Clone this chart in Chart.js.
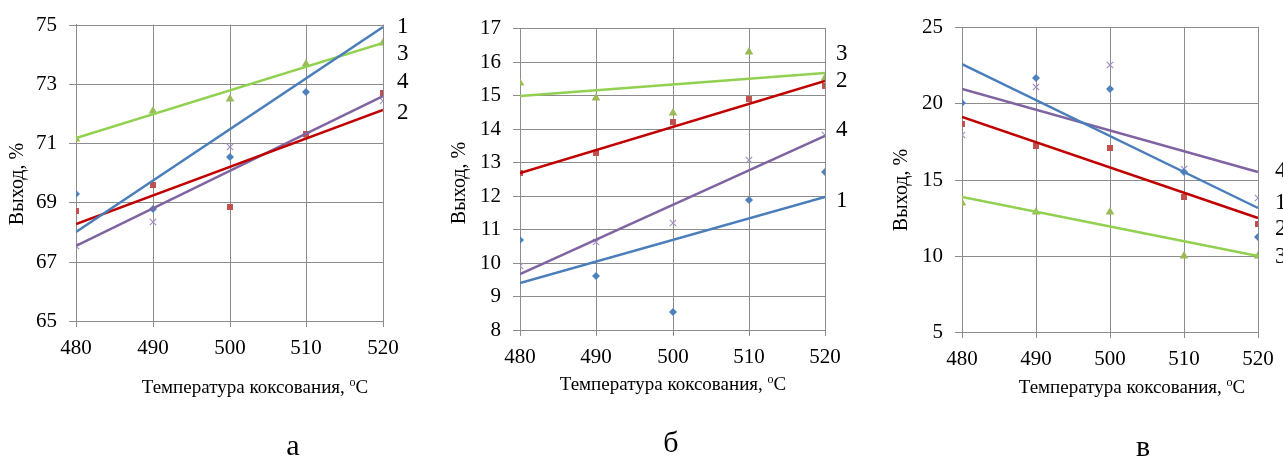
<!DOCTYPE html>
<html>
<head>
<meta charset="utf-8">
<script src="https://cdn.jsdelivr.net/npm/chart.js@4/dist/chart.umd.min.js"></script>
<style>
  body { margin: 0; background: #fff; width: 1283px; height: 457px; overflow: hidden; position: relative; font-family: "Liberation Serif", serif; }
  .panel { position: absolute; top: 0; }
  .sub { position: absolute; font-size: 30px; line-height: 1; transform: translate(-50%, -50%); color: #000; }
</style>
</head>
<body>
<div class="panel" style="left:0"><canvas id="chartA" width="430" height="457"></canvas></div>
<div class="panel" style="left:430px"><canvas id="chartB" width="430" height="457"></canvas></div>
<div class="panel" style="left:860px"><canvas id="chartC" width="423" height="457"></canvas></div>
<div class="sub" style="left:293px;top:445px">а</div>
<div class="sub" style="left:671px;top:442px">б</div>
<div class="sub" style="left:1143px;top:446px">в</div>
<script>
// температура коксования, °C
const temps = [480, 490, 500, 510, 520];
const trendX = [480, 520];
const seriesNames = ['1', '2', '3', '4'];

// а
const a1 = [69.28, 68.77, 70.52, 72.72, 76.0]; // last point is above the axis top
const a2 = [68.72, 69.59, 68.83, 71.32, 72.70];
const a3 = [71.14, 72.10, 72.49, 73.66, 74.38];
const a4 = [67.53, 68.34, 70.87, 71.23, 72.41];
const aTrend1 = [68.00, 74.92];
const aTrend2 = [68.28, 72.13];
const aTrend3 = [71.17, 74.39];
const aTrend4 = [67.53, 72.59];

// б
const b1 = [10.68, 9.60, 8.55, 11.88, 12.72];
const b2 = [12.69, 13.26, 14.21, 14.89, 15.27];
const b3 = [15.36, 14.90, 14.47, 16.27, 15.52];
const b4 = [9.92, 10.63, 11.20, 13.06, 13.82];
const bTrend1 = [9.40, 11.96];
const bTrend2 = [12.69, 15.41];
const bTrend3 = [14.98, 15.67];
const bTrend4 = [9.67, 13.77];

// в
const c1 = [20.01, 21.63, 20.93, 15.46, 11.26];
const c2 = [18.65, 17.21, 17.06, 13.88, 12.07];
const c3 = [13.45, 12.90, 12.90, 9.99, 10.00];
const c4 = [17.95, 21.04, 22.53, 15.70, 13.78];
const cTrend1 = [22.57, 13.12];
const cTrend2 = [19.07, 12.47];
const cTrend3 = [13.82, 9.97];
const cTrend4 = [20.93, 15.46];

const lineColors = ['#4a7ebb', '#c00000', '#92d050', '#8064a2'];
const markerColors = ['#4f81bd', '#c0504d', '#9bbb59', '#a48fc4'];
const markerStyles = ['rectRot', 'rect', 'triangle', 'crossRot'];
const markerSizes = [4, 4.2, 5, 4.5];

const FONT = "'Liberation Serif', 'Times New Roman', serif";
Chart.defaults.font.family = FONT;
Chart.defaults.color = '#000';

// axis titles and line numbers
const textPlugin = {
  id: 'panelText',
  afterDraw(chart, args, o) {
    const ctx = chart.ctx;
    ctx.save();
    ctx.fillStyle = '#000';

    // y title
    ctx.save();
    ctx.font = '20px ' + FONT;
    ctx.translate(o.yTitle[0], o.yTitle[1]);
    ctx.rotate(-Math.PI / 2);
    ctx.textAlign = 'center';
    ctx.textBaseline = 'middle';
    ctx.fillText('Выход, %', 0, 0);
    ctx.restore();

    // x title with superscript o
    const main = 'Температура коксования, ';
    ctx.textBaseline = 'middle';
    ctx.textAlign = 'left';
    ctx.font = '19px ' + FONT;
    const w1 = ctx.measureText(main).width;
    const w3 = ctx.measureText('C').width;
    ctx.font = '12px ' + FONT;
    const w2 = ctx.measureText('o').width;
    let x = o.xTitle[0] - (w1 + w2 + w3) / 2;
    const y = o.xTitle[1];
    ctx.font = '19px ' + FONT;
    ctx.fillText(main, x, y);
    x += w1;
    ctx.font = '12px ' + FONT;
    ctx.fillText('o', x, y - 5);
    x += w2;
    ctx.font = '19px ' + FONT;
    ctx.fillText('C', x, y);

    // line numbers
    ctx.font = '23px ' + FONT;
    o.labels.forEach((p, i) => {
      ctx.fillText(seriesNames[i], p[0], p[1]);
    });
    ctx.restore();
  }
};

function makePanel(id, series, trends, yAxis, box, text) {
  const datasets = [];
  trends.forEach((t, i) => {
    datasets.push({
      data: trendX.map((x, k) => ({ x: x, y: t[k] })),
      showLine: true,
      borderColor: lineColors[i],
      borderWidth: 2.5,
      pointRadius: 0,
      fill: false
    });
  });
  series.forEach((s, i) => {
    datasets.push({
      data: temps.map((x, k) => ({ x: x, y: s[k] })),
      showLine: false,
      pointStyle: markerStyles[i],
      pointRadius: markerSizes[i],
      backgroundColor: markerColors[i],
      borderColor: markerColors[i],
      borderWidth: markerStyles[i] === 'crossRot' ? 1.2 : 0
    });
  });

  const canvas = document.getElementById(id);
  const tickFont = { family: FONT, size: 21 };
  new Chart(canvas, {
    type: 'scatter',
    data: { datasets },
    options: {
      responsive: false,
      animation: false,
      events: [],
      layout: { padding: { top: box.top, right: canvas.width - box.right, left: 0, bottom: 0 } },
      plugins: {
        legend: { display: false },
        tooltip: { enabled: false },
        panelText: text
      },
      scales: {
        x: {
          type: 'linear',
          min: 480,
          max: 520,
          alignToPixels: true,
          ticks: { stepSize: 10, padding: 9, color: '#000', font: tickFont },
          grid: { color: '#8c8c8c', tickLength: 6, tickColor: '#8c8c8c' },
          border: { color: '#8c8c8c' },
          afterFit: (scale) => { scale.height = canvas.height - box.bottom; }
        },
        y: {
          type: 'linear',
          min: yAxis[0],
          max: yAxis[1],
          alignToPixels: true,
          ticks: { stepSize: yAxis[2], padding: 12, color: '#000', font: tickFont },
          grid: { color: '#8c8c8c', tickLength: 7, tickColor: '#8c8c8c' },
          border: { color: '#8c8c8c' },
          afterFit: (scale) => { scale.width = box.left; }
        }
      }
    },
    plugins: [textPlugin]
  });
}

makePanel('chartA',
  [a1, a2, a3, a4],
  [aTrend1, aTrend2, aTrend3, aTrend4],
  [65, 75, 2],
  { left: 76, right: 383, top: 22, bottom: 321 },
  { yTitle: [18, 184], xTitle: [255, 388], labels: [[397, 27], [397, 113], [397, 54], [397, 82]] });

makePanel('chartB',
  [b1, b2, b3, b4],
  [bTrend1, bTrend2, bTrend3, bTrend4],
  [8, 17, 1],
  { left: 90, right: 395, top: 28, bottom: 330 },
  { yTitle: [30, 183], xTitle: [243, 385], labels: [[406, 201], [406, 81], [406, 54], [406, 130]] });

makePanel('chartC',
  [c1, c2, c3, c4],
  [cTrend1, cTrend2, cTrend3, cTrend4],
  [5, 25, 5],
  { left: 102, right: 403, top: 27, bottom: 332 },
  { yTitle: [42, 190], xTitle: [272, 388], labels: [[415, 203], [415, 229], [415, 257], [415, 171]] });
</script>
</body>
</html>
